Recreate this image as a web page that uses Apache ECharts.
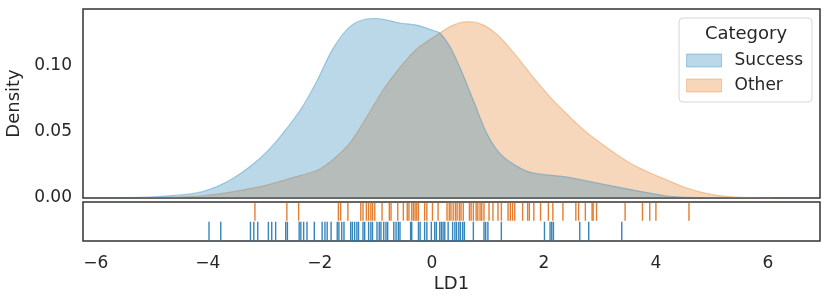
<!DOCTYPE html>
<html>
<head>
<meta charset="utf-8">
<script src="https://cdn.jsdelivr.net/npm/echarts@6/dist/echarts.min.js"></script>
<style>html,body{margin:0;padding:0;background:#fff}#c{width:830px;height:302px}</style>
</head>
<body>
<div id="c"></div>
<script>
// ---- data ----
const categories = ['Success', 'Other'];
const xTickLabels = [-6, -4, -2, 0, 2, 4, 6];
const yTickLabels = [0.00, 0.05, 0.10];

// KDE curve (LD1 value, density)
const successX = [-5.6, -5.0, -4.6, -4.1, -3.55, -2.95, -2.36, -2.05, -1.77, -1.46, -1.17, -0.98, -0.57, -0.27, 0.02, 0.14, 0.32, 0.5, 0.74, 0.98, 1.21, 1.52, 1.8, 2.4, 3.0, 3.6, 4.2, 4.8, 5.2];
const successY = [0, 0.0008, 0.002, 0.0048, 0.015, 0.035, 0.066, 0.089, 0.113, 0.13, 0.1356, 0.136, 0.1326, 0.131, 0.127, 0.125, 0.115, 0.099, 0.074, 0.049, 0.034, 0.024, 0.019, 0.016, 0.011, 0.006, 0.0015, 0.0002, 0];
const otherX = [-5.2, -4.7, -4.14, -3.55, -2.95, -2.36, -2.05, -1.77, -1.46, -1.17, -0.87, -0.57, -0.27, 0.14, 0.38, 0.64, 0.92, 1.21, 1.52, 1.8, 2.1, 2.4, 2.7, 3.0, 3.3, 3.6, 3.9, 4.2, 4.5, 4.8, 5.1, 5.4, 5.7, 6.1];
const otherY = [0, 0.0005, 0.0015, 0.0048, 0.0098, 0.017, 0.021, 0.029, 0.042, 0.061, 0.082, 0.099, 0.113, 0.125, 0.131, 0.1336, 0.131, 0.122, 0.107, 0.092, 0.077, 0.064, 0.052, 0.042, 0.033, 0.025, 0.019, 0.0136, 0.0083, 0.0045, 0.002, 0.0008, 0.0002, 0];

// rug observations
const successRug = [-3.98, -3.77, -3.24, -3.18, -3.11, -2.92, -2.86, -2.79, -2.61, -2.58, -2.37, -2.34, -2.29, -2.23, -2.10, -1.96, -1.91, -1.87, -1.80, -1.69, -1.66, -1.61, -1.57, -1.45, -1.42, -1.38, -1.34, -1.31, -1.23, -1.20, -1.13, -1.09, -1.06, -0.98, -0.94, -0.91, -0.86, -0.82, -0.79, -0.68, -0.64, -0.60, -0.57, -0.38, -0.36, -0.24, -0.21, -0.13, -0.09, -0.01, 0.05, 0.08, 0.14, 0.17, 0.20, 0.23, 0.29, 0.37, 0.41, 0.44, 0.48, 0.51, 0.55, 0.58, 0.74, 0.93, 0.96, 1.00, 1.24, 2.01, 2.11, 2.14, 2.17, 2.64, 2.80, 3.39];
const otherRug = [-3.16, -2.59, -2.38, -1.67, -1.63, -1.50, -1.27, -1.23, -1.17, -1.13, -1.09, -1.06, -1.02, -0.89, -0.76, -0.73, -0.61, -0.51, -0.44, -0.41, -0.36, -0.33, -0.30, -0.27, -0.24, -0.13, -0.09, 0.01, 0.11, 0.27, 0.31, 0.34, 0.38, 0.42, 0.45, 0.49, 0.52, 0.56, 0.67, 0.70, 0.74, 0.79, 0.82, 0.86, 0.89, 0.93, 1.02, 1.09, 1.18, 1.24, 1.36, 1.40, 1.44, 1.48, 1.62, 1.71, 1.74, 1.82, 1.94, 2.08, 2.16, 2.34, 2.57, 2.62, 2.74, 2.86, 2.88, 2.94, 3.45, 3.76, 3.89, 4.00, 4.59];

// ---- styling ----
const FONT = 'DejaVu Sans';
const TXT = '#262626';
const BLUE = '31,125,182';
const ORANGE = '225,122,32';
const XMIN = -6.23, XMAX = 6.93;

function fmtNum(v, d) {
  const s = Math.abs(v).toFixed(d);
  return (v < -1e-9 ? '\u2212' : '') + s;
}
function inList(v, list) { return list.some(t => Math.abs(t - v) < 1e-6); }

const chart = echarts.init(document.getElementById('c'), null, {renderer: 'canvas'});
const option = {
  animation: false,
  backgroundColor: '#fff',
  textStyle: {fontFamily: FONT, color: TXT},
  grid: [
    {left: 83, right: 10, top: 9, height: 189, show: true, borderColor: '#333', borderWidth: 1.5, backgroundColor: 'transparent', containLabel: false, outerBoundsMode: 'none'},
    {left: 83, right: 10, top: 202, height: 39, show: true, borderColor: '#333', borderWidth: 1.5, backgroundColor: 'transparent', containLabel: false, outerBoundsMode: 'none'}
  ],
  xAxis: [
    {type: 'value', gridIndex: 0, min: XMIN, max: XMAX, splitNumber: 6,
     axisLine: {show: false}, axisTick: {show: false}, splitLine: {show: false}, axisLabel: {show: false}},
    {type: 'value', gridIndex: 1, min: XMIN, max: XMAX, splitNumber: 6,
     axisLine: {show: false}, axisTick: {show: false}, splitLine: {show: false},
     axisLabel: {show: true, margin: 14, fontSize: 17, fontFamily: FONT, color: TXT,
       formatter: v => inList(v, xTickLabels) ? fmtNum(v, 0) : ''},
     name: 'LD1', nameLocation: 'middle', nameGap: 34,
     nameTextStyle: {fontSize: 18, fontFamily: FONT, color: TXT}}
  ],
  yAxis: [
    {type: 'value', gridIndex: 0, min: 0, max: 0.1432, interval: 0.05,
     axisLine: {show: false}, axisTick: {show: false}, splitLine: {show: false},
     axisLabel: {margin: 11, fontSize: 17, fontFamily: FONT, color: TXT,
       formatter: v => inList(v, yTickLabels) ? v.toFixed(2) : ''},
     name: 'Density', nameLocation: 'middle', nameGap: 54, nameRotate: 90,
     nameTextStyle: {fontSize: 18, fontFamily: FONT, color: TXT}},
    {type: 'value', gridIndex: 1, min: 0, max: 2,
     axisLine: {show: false}, axisTick: {show: false}, splitLine: {show: false}, axisLabel: {show: false}}
  ],
  legend: {
    orient: 'vertical', right: 18, top: 18,
    padding: [34, 9, 8, 7],
    backgroundColor: '#fff', borderColor: '#d6d6d6', borderWidth: 1, borderRadius: 4,
    itemWidth: 35, itemHeight: 13, itemGap: 8,
    icon: 'rect',
    textStyle: {fontSize: 17, fontFamily: FONT, color: TXT, padding: [0, 0, 0, 8]},
    data: [
      {name: categories[0], itemStyle: {color: 'rgba(' + BLUE + ',0.3)', borderColor: 'rgba(' + BLUE + ',0.35)', borderWidth: 1}},
      {name: categories[1], itemStyle: {color: 'rgba(' + ORANGE + ',0.3)', borderColor: 'rgba(' + ORANGE + ',0.35)', borderWidth: 1}}
    ]
  },
  graphic: [{
    type: 'text', z: 100, x: 746, y: 34,
    style: {text: 'Category', font: '18px "DejaVu Sans"', fill: TXT, textAlign: 'center', textVerticalAlign: 'middle'}
  }],
  series: [
    {name: categories[1], type: 'line', xAxisIndex: 0, yAxisIndex: 0,
     data: otherX.map((x, i) => [x, otherY[i]]),
     smooth: 0.3, showSymbol: false, symbol: 'none',
     lineStyle: {color: 'rgba(' + ORANGE + ',0.35)', width: 1.2},
     itemStyle: {color: 'rgba(' + ORANGE + ',0.3)'},
     areaStyle: {color: 'rgba(' + ORANGE + ',0.3)', opacity: 1, origin: 'start'}, z: 2},
    {name: categories[0], type: 'line', xAxisIndex: 0, yAxisIndex: 0,
     data: successX.map((x, i) => [x, successY[i]]),
     smooth: 0.3, showSymbol: false, symbol: 'none',
     lineStyle: {color: 'rgba(' + BLUE + ',0.35)', width: 1.2},
     itemStyle: {color: 'rgba(' + BLUE + ',0.3)'},
     areaStyle: {color: 'rgba(' + BLUE + ',0.3)', opacity: 1, origin: 'start'}, z: 3},
    {name: 'rugOther', type: 'scatter', xAxisIndex: 1, yAxisIndex: 1,
     data: otherRug.map(x => [x, 1.5]), symbol: 'rect', symbolSize: [1.4, 18],
     itemStyle: {color: '#e0701a', opacity: 0.9}, silent: true, legendHoverLink: false},
    {name: 'rugSuccess', type: 'scatter', xAxisIndex: 1, yAxisIndex: 1,
     data: successRug.map(x => [x, 0.5]), symbol: 'rect', symbolSize: [1.4, 19],
     itemStyle: {color: '#1f77b4', opacity: 0.9}, silent: true, legendHoverLink: false}
  ]
};
chart.setOption(option);
</script>
</body>
</html>
